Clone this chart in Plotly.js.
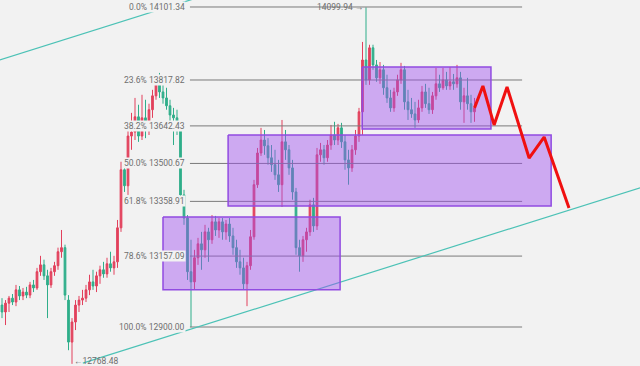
<!DOCTYPE html>
<html>
<head>
<meta charset="utf-8">
<script src="https://cdn.plot.ly/plotly-3.0.1.min.js"></script>
<style>html,body{margin:0;padding:0;background:#f2f2f2;}#chart{width:640px;height:366px;}</style>
</head>
<body>
<div id="chart"></div>
<script>
// ---- Candle data (bar index, OHLC) ----
const openP = [12979,12954,12986,13004,12990,13034,13012,13026,13015,13052,13041,13100,13125,13085,13052,13100,13122,13173,13188,12997,
12846,12918,12979,12997,13004,13034,13063,13048,13085,13107,13092,13129,13114,13136,13261,13477,13417,13604,13619,13677,
13604,13673,13627,13704,13757,13811,13772,13749,13719,13684,13673,13627,13383,13297,13100,13063,13151,13202,13180,13246,
13217,13283,13253,13283,13246,13275,13231,13188,13136,13114,13056,13122,13228,13421,13540,13589,13567,13522,13496,13458,
13421,13582,13552,13484,13394,13188,13158,13217,13246,13346,13268,13533,13552,13522,13570,13608,13589,13635,13582,13514,
13484,13552,13604,13696,13895,13818,13942,13876,13826,13857,13788,13749,13711,13772,13818,13857,13734,13704,13688,13665,
13711,13772,13727,13704,13757,13803,13788,13818,13795,13811,13803,13826,13734,13757,13727,13696];
const highP = [13004,12997,13012,13019,13052,13048,13041,13045,13063,13070,13114,13158,13144,13107,13114,13136,13188,13253,13199,13015,
12932,12997,13012,13034,13052,13089,13107,13100,13122,13136,13151,13173,13158,13290,13507,13492,13635,13692,13749,13723,
13761,13742,13727,13780,13826,13845,13811,13788,13742,13711,13704,13646,13402,13308,13217,13180,13224,13246,13272,13261,
13308,13305,13297,13297,13290,13297,13261,13217,13180,13151,13136,13253,13439,13559,13635,13627,13596,13570,13552,13514,
13665,13627,13570,13514,13409,13217,13231,13261,13365,13372,13559,13578,13570,13589,13646,13658,13650,13654,13608,13552,
13570,13627,13711,13965,14099.94,13954,13954,13895,13887,13876,13838,13780,13788,13838,13884,13872,13780,13749,13734,13742,
13795,13803,13788,13772,13864,13838,13864,13849,13868,13841,13876,13849,13788,13826,13761,13749];
const lowP = [12932,12907,12954,12979,12975,12997,12997,13004,13004,13026,13034,13085,13070,12932,13041,13085,13107,13151,12997,12817,
12768.48,12889,12954,12979,12990,13015,13034,13026,13056,13078,13078,13100,13089,13114,13246,13394,13383,13552,13589,13582,
13589,13596,13608,13673,13742,13749,13727,13704,13635,13570,13608,13365,13272,13070,12900,13034,13125,13107,13151,13136,
13202,13231,13224,13217,13217,13209,13162,13114,13089,13034,12975,13107,13217,13409,13529,13533,13496,13469,13439,13394,
13338,13514,13458,13365,13162,13100,13136,13173,13231,13246,13253,13507,13496,13507,13552,13570,13570,13559,13477,13421,
13469,13533,13582,13608,13799,13799,13857,13811,13803,13761,13730,13696,13696,13757,13803,13704,13665,13673,13635,13654,
13696,13711,13688,13688,13742,13772,13780,13780,13780,13780,13788,13704,13654,13704,13654,13658];
const closeP = [12954,12986,13004,12990,13034,13012,13026,13015,13052,13041,13100,13125,13085,13052,13100,13122,13173,13188,13015,12846,
12918,12979,12997,13004,13034,13063,13048,13085,13107,13092,13129,13114,13136,13261,13477,13417,13604,13619,13677,13604,
13673,13627,13704,13757,13811,13772,13749,13719,13684,13673,13627,13383,13297,13100,13063,13151,13202,13180,13246,13217,
13283,13253,13283,13246,13275,13231,13188,13136,13114,13056,13122,13228,13421,13540,13589,13567,13522,13496,13458,13421,
13582,13552,13484,13394,13188,13158,13217,13246,13346,13268,13533,13552,13522,13570,13608,13589,13635,13582,13514,13484,
13552,13604,13696,13895,13818,13942,13876,13826,13857,13788,13749,13711,13772,13818,13857,13734,13704,13688,13665,13711,
13772,13727,13704,13757,13803,13788,13818,13795,13811,13803,13826,13734,13757,13727,13696,13711];
const barIdx = openP.map((_, i) => i);

// ---- Fibonacci retracement ----
const fibPct = ["0.0%", "23.6%", "38.2%", "50.0%", "61.8%", "78.6%", "100.0%"];
const fibVal = [14101.34, 13817.82, 13642.43, 13500.67, 13358.91, 13157.09, 12900.00];
const fibStart = 53.7;
const fibEnd = 148.6;

// ---- Extreme labels ----
const highLabel = {bar: 104, value: 14099.94, text: "14099.94 →"};
const lowLabel = {bar: 20, value: 12768.48, text: "←12768.48"};

// ---- Rectangles (bar start, bar end, price top, price bottom) ----
const boxX0 = [102.9, 64.6, 46.0];
const boxX1 = [139.7, 156.9, 96.6];
const boxTop = [13868, 13608, 13301];
const boxBot = [13631, 13342, 13034];

// ---- Projected zigzag path ----
const zigX = [135, 137.4, 140.6, 144.3, 150.6, 154.9, 162.0];
const zigY = [13711, 13795, 13646, 13791, 13521, 13600, 13334];

// ---- Channel lines ----
const chan1X = [-3.4, 56.6];
const chan1Y = [13883, 14141];
const chan2X = [23.1, 185.1];
const chan2Y = [12771, 13421];

const upColor = '#e2405c';
const downColor = '#2fae8a';
const traces = [];

traces.push({
  type: 'candlestick', x: barIdx, open: openP, high: highP, low: lowP, close: closeP,
  increasing: {line: {color: upColor, width: 1}, fillcolor: upColor},
  decreasing: {line: {color: downColor, width: 1}, fillcolor: downColor},
  whiskerwidth: 0, hoverinfo: 'skip'
});

// fib level lines
fibVal.forEach(v => {
  traces.push({type: 'scatter', mode: 'lines', x: [fibStart, fibEnd], y: [v, v],
    line: {color: '#7a7a7a', width: 1}, hoverinfo: 'skip'});
});

// channel lines
traces.push({type: 'scatter', mode: 'lines', x: chan1X, y: chan1Y, line: {color: '#4cc2b6', width: 1.2}, hoverinfo: 'skip'});
traces.push({type: 'scatter', mode: 'lines', x: chan2X, y: chan2Y, line: {color: '#4cc2b6', width: 1.2}, hoverinfo: 'skip'});

// rectangles
for (let k = 0; k < boxX0.length; k++) {
  traces.push({type: 'scatter', mode: 'lines', fill: 'toself',
    x: [boxX0[k], boxX1[k], boxX1[k], boxX0[k], boxX0[k]],
    y: [boxTop[k], boxTop[k], boxBot[k], boxBot[k], boxTop[k]],
    fillcolor: 'rgba(160,80,240,0.45)', line: {color: 'rgb(145,75,225)', width: 1.5}, hoverinfo: 'skip'});
}

// zigzag
traces.push({type: 'scatter', mode: 'lines', x: zigX, y: zigY, line: {color: '#f01010', width: 3}, hoverinfo: 'skip'});

const labFont = {family: 'Roboto, sans-serif', size: 8.5, color: '#6e6e6e'};
const annotations = fibVal.map((v, i) => ({
  x: fibStart, y: Math.log10(v), xref: 'x', yref: 'y', xanchor: 'right', yanchor: 'middle',
  xshift: -4, showarrow: false, text: fibPct[i] + ' ' + v.toFixed(2), font: labFont,
  bgcolor: '#f2f2f2', borderpad: 0
}));
annotations.push({x: highLabel.bar, y: Math.log10(highLabel.value), xref: 'x', yref: 'y', xanchor: 'right', yanchor: 'middle',
  xshift: -1, showarrow: false, text: highLabel.text, font: labFont});
annotations.push({x: lowLabel.bar, y: Math.log10(lowLabel.value), xref: 'x', yref: 'y', xanchor: 'left', yanchor: 'middle',
  xshift: 0, yshift: 3, showarrow: false, text: lowLabel.text, font: labFont});

const layout = {
  width: 640, height: 366, margin: {l: 0, r: 0, t: 0, b: 0},
  paper_bgcolor: '#f2f2f2', plot_bgcolor: '#f2f2f2', showlegend: false,
  xaxis: {range: [-0.571, 182.286], visible: false, rangeslider: {visible: false}, fixedrange: true},
  yaxis: {type: 'log', range: [Math.log10(12760.8), Math.log10(14128.8)], visible: false, fixedrange: true},
  annotations: annotations, hovermode: false
};
Plotly.newPlot('chart', traces, layout, {displayModeBar: false, staticPlot: true});
</script>
</body>
</html>
